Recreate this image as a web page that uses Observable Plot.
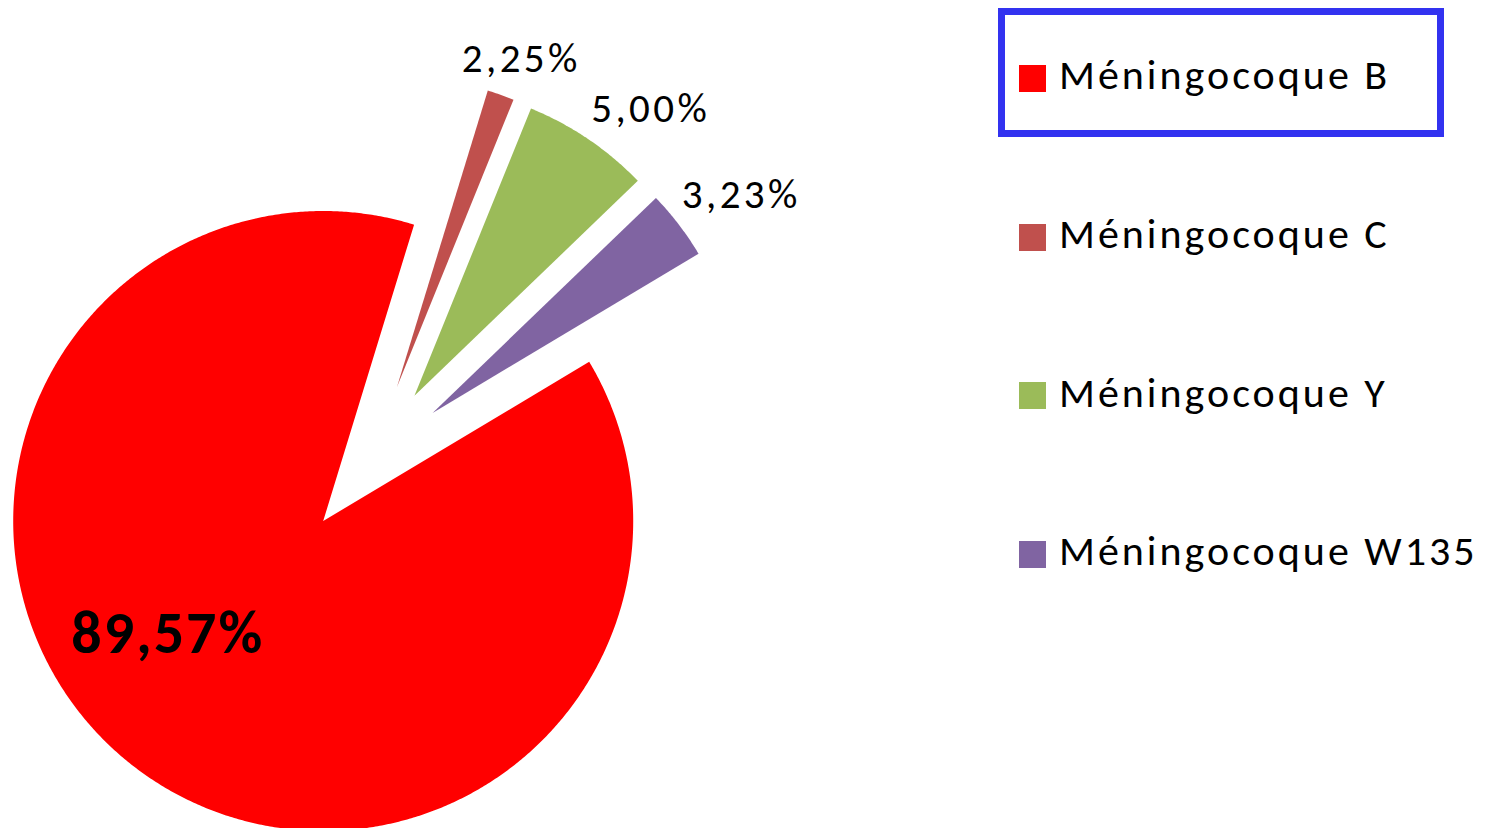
<!DOCTYPE html>
<html>
<head>
<meta charset="utf-8">
<script src="https://cdn.jsdelivr.net/npm/d3@7"></script>
<script src="https://cdn.jsdelivr.net/npm/@observablehq/plot@0.6"></script>
<style>
  html, body { margin: 0; padding: 0; background: #fff; }
  #wrap { position: relative; width: 1495px; height: 828px; overflow: hidden; font-family: Calibri, Carlito, Lato, sans-serif; }
  #wrap svg { position: absolute; left: 0; top: 0; }
  #wrap svg text.lbl { letter-spacing: 3.4px; }
  #wrap svg text.lblbig { letter-spacing: 2px; }
  .legend-box { position: absolute; box-sizing: border-box; border: 7px solid #3232F0; }
  .legend-row { position: absolute; display: flex; align-items: center; height: 40px; white-space: nowrap; }
  .legend-swatch { width: 27px; height: 27px; margin-right: 13px; flex: none; }
  .legend-text { font-size: 42px; line-height: 40px; letter-spacing: 3px; color: #000; position: relative; top: -3px; }
</style>
</head>
<body>
<div id="wrap"></div>
<script>
// ---- data ----
const categories = ["Méningocoque B", "Méningocoque C", "Méningocoque Y", "Méningocoque W135"];
const sliceShares = [88.3, 1.4, 6.67, 3.61];          // slice sizes as drawn (percent of circle)
const labelTexts = ["89,57%", "2,25%", "5,00%", "3,23%"]; // data labels as printed
const colors = ["#FF0000", "#C0504D", "#9BBB59", "#8064A2"];

// ---- layout ----
const W = 1495, H = 828;
const CX = 370.5, CY = 459.5, RPX = 310;   // pie centre & radius in px
const EXPLODE = 0.25;                        // point explosion (fraction of radius)
const START = 59.1;                          // first-slice angle (degrees, clockwise from 12 o'clock)
const rad = d => d * Math.PI / 180;
const u = a => [Math.sin(a), Math.cos(a)];

const rows = categories.map((c, i) => ({category: c, share: sliceShares[i], label: labelTexts[i]}));
const arcs = d3.pie().sort(null).value(d => d.share)
  .startAngle(rad(START)).endAngle(rad(START) + 2 * Math.PI)(rows);

// slice polygons in pie units (radius 1, centre 0,0, y up)
const pts = [];
arcs.forEach(a => {
  const mid = (a.startAngle + a.endAngle) / 2;
  const [ms, mc] = u(mid);
  const vx = ms * EXPLODE, vy = mc * EXPLODE;
  const cat = a.data.category;
  pts.push({category: cat, x: vx, y: vy});
  const n = Math.max(8, Math.ceil((a.endAngle - a.startAngle) / rad(0.4)));
  for (let k = 0; k <= n; k++) {
    const t = a.startAngle + (a.endAngle - a.startAngle) * k / n;
    const [s, c] = u(t);
    pts.push({category: cat, x: vx + s, y: vy + c});
  }
  pts.push({category: cat, x: vx, y: vy});
});

// outside-end labels for the small slices
const outerLabels = arcs.slice(1).map(a => {
  const mid = (a.startAngle + a.endAngle) / 2;
  const [s, c] = u(mid);
  const ax = s * (EXPLODE + 1), ay = c * (EXPLODE + 1);
  const deg = (mid * 180 / Math.PI) % 360;
  const offPx = deg < 30 ? (s - 1) * 58.5 : 3;
  const offPy = deg < 30 ? 23 : 17;
  return {label: a.data.label, x: ax + offPx / RPX, y: ay + offPy / RPX};
});

// inside label for the big slice
const big = arcs[0];
const innerLabels = [big].map(a => {
  const mid = (a.startAngle + a.endAngle) / 2;
  const [ms, mc] = u(mid);
  const t = a.startAngle + 0.55 * (a.endAngle - a.startAngle);
  const [s, c] = u(t);
  return {label: a.data.label, x: ms * EXPLODE + 0.62 * s, y: mc * EXPLODE + 0.62 * c};
});

const chart = Plot.plot({
  width: W,
  height: H,
  margin: 0,
  x: {domain: [(0 - CX) / RPX, (W - CX) / RPX], axis: null},
  y: {domain: [(CY - H) / RPX, CY / RPX], axis: null},
  color: {domain: categories, range: colors},
  style: {background: "#fff", overflow: "hidden"},
  marks: [
    Plot.line(pts, {x: "x", y: "y", z: "category", fill: "category", stroke: null, curve: "linear"}),
    Plot.text(outerLabels, {x: "x", y: "y", text: "label", textAnchor: "start", lineAnchor: "bottom",
      fontFamily: "Calibri, Carlito, Lato, sans-serif", fontSize: 41, fill: "#000", className: "lbl"}),
    Plot.text(innerLabels, {x: "x", y: "y", text: "label", textAnchor: "middle", lineAnchor: "middle",
      fontFamily: "Calibri, Carlito, Lato, sans-serif", fontSize: 60, fontWeight: "bold", fill: "#000", className: "lblbig"})
  ]
});

const wrap = document.getElementById("wrap");
wrap.appendChild(chart);
chart.querySelectorAll("g[aria-label='text']").forEach((g, i) => {
  g.querySelectorAll("text").forEach(t => t.classList.add(i === 0 ? "lbl" : "lblbig"));
});

// legend (right side)
const LEG_X = 1019, LEG_Y0 = 78.3, LEG_STEP = 158.7;
const box = document.createElement("div");
box.className = "legend-box";
Object.assign(box.style, {left: "998px", top: "8px", width: "446px", height: "129px"});
wrap.appendChild(box);
categories.forEach((c, i) => {
  const row = document.createElement("div");
  row.className = "legend-row";
  row.style.left = LEG_X + "px";
  row.style.top = (LEG_Y0 + i * LEG_STEP - 20) + "px";
  const sw = document.createElement("span");
  sw.className = "legend-swatch";
  sw.style.background = colors[i];
  const tx = document.createElement("span");
  tx.className = "legend-text";
  tx.textContent = c;
  row.appendChild(sw);
  row.appendChild(tx);
  wrap.appendChild(row);
});
</script>
</body>
</html>
